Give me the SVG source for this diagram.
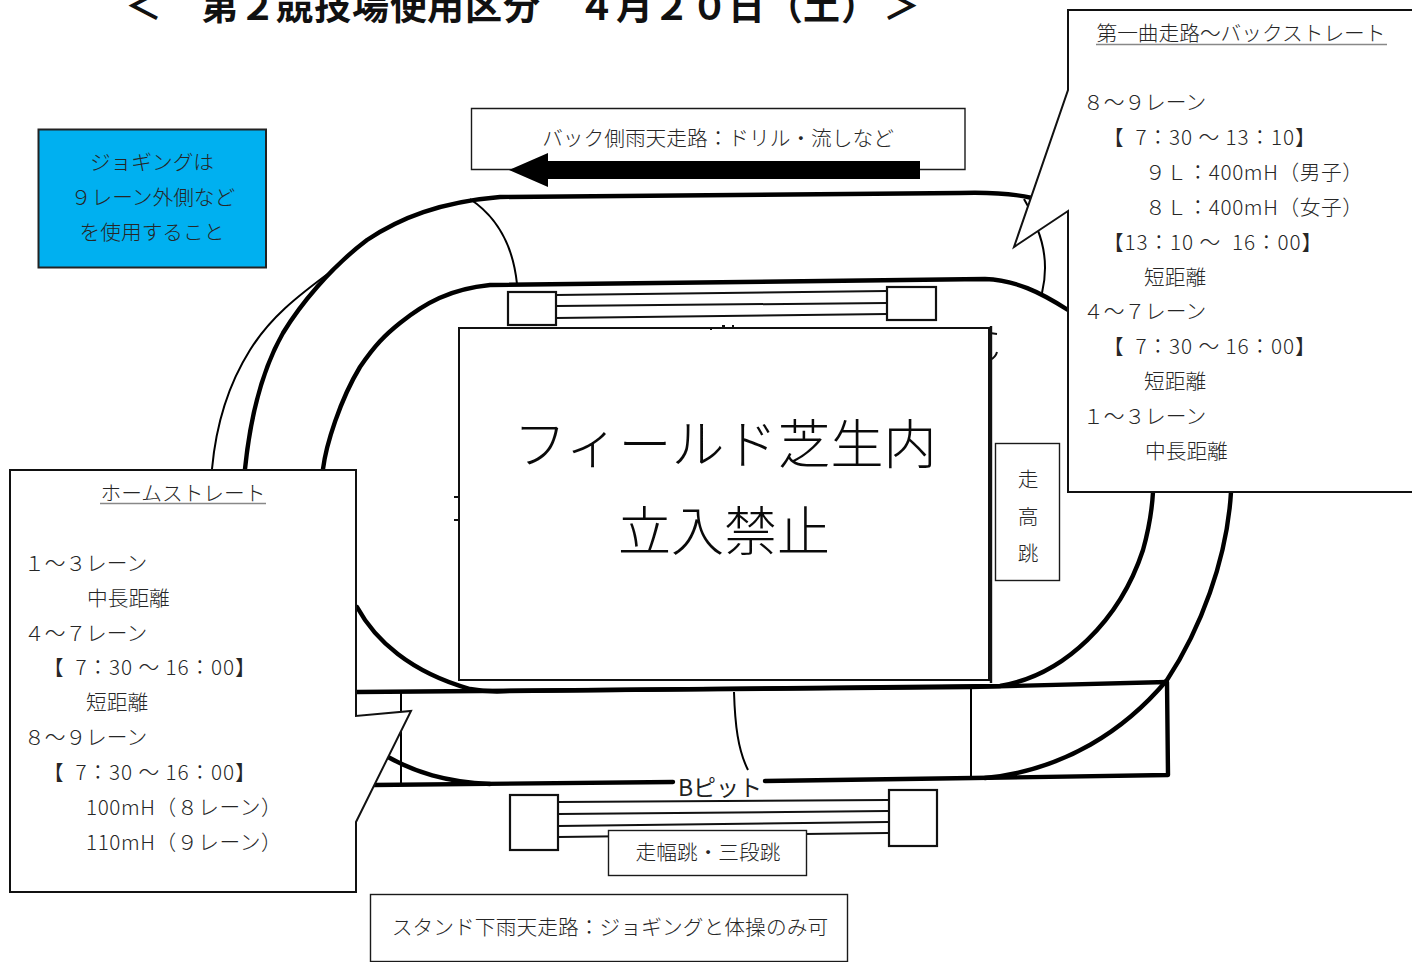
<svg xmlns="http://www.w3.org/2000/svg" width="1412" height="962" viewBox="0 0 1412 962">
<style>
text{font-family:"Noto Sans CJK JP","Noto Sans",sans-serif;font-size:20.7px;font-weight:300;fill:#262626;white-space:pre}
.m{text-anchor:middle}
.t{letter-spacing:.9px}
.h{letter-spacing:.6px}
.title{font-size:37px;font-weight:700;fill:#111}
.big{font-size:53px;fill:#0a0a0a}
.box{fill:#fff;stroke:#1a1a1a;stroke-width:1.4}
.call{fill:#fff;stroke:#111;stroke-width:2}
.trk{fill:none;stroke:#000;stroke-width:4.400;stroke-linecap:round;stroke-linejoin:round}
.thin{fill:none;stroke:#000;stroke-width:2}
.pit{fill:#fff;stroke:#111;stroke-width:2.200}
.pl{fill:none;stroke:#111;stroke-width:2}
.u{fill:none;stroke:#888;stroke-width:1.6}
</style>
<rect width="1412" height="962" fill="#fff"/>
<g id="title"><text class="title" y="20" x="125">＜</text><text class="title" y="20" x="201 239 276 314 352 390 427 465 503">第２競技場使用区分</text><text class="title" y="20" x="578 616 653 691 728 766 803 841 883">４月２０日（土）＞</text></g>
<g id="connectors">
<path class="thin" d="M212 469C216 425 228 385 250 350C270 318 295 298 333 270"/>
<path class="trk" d="M245 469C250 420 262 370 283 333C300 305 330 268 367 240C400 218 440 202 500 197L960 193C995 192 1015 194 1032 198"/>
<path class="trk" d="M323 469C326 445 340 400 360 367C375 345 385 335 400 323C425 303 450 289 490 285L985 279C1015 280 1040 292 1068 310"/>
<path class="thin" d="M470 199C497 217 513 245 517 284"/>
<path class="thin" d="M1037 228C1046 250 1047 272 1042 293"/>
<path class="thin" d="M1024 199L1029 208" stroke-width="3"/>
<path class="trk" d="M357 607C375 640 410 672 470 689C480 691 495 692 510 691L1000 686C1065 675 1120 620 1143 550C1150 525 1152 510 1153 492"/>
<path class="trk" d="M357 692L970 687L1167 682L1168 775L973 778L765 781"/>
<path class="trk" d="M673 782L373 785"/>
<path class="trk" d="M388 757C415 772 445 782 490 784"/>
<path class="trk" d="M1231 492C1227 560 1200 630 1167 680C1125 730 1065 770 985 778"/>
<path class="thin" d="M401 693V784"/>
<path class="thin" d="M971 687V778"/>
<path class="thin" d="M734 692C735 725 738 750 748 770"/>
</g>
<g id="field"><rect x="459" y="328" width="530" height="352" fill="#fff" stroke="#111" stroke-width="2"/><path d="M991 326V683" fill="none" stroke="#111" stroke-width="2.400"/><path d="M990 333L997 334M990 360C994 358 996 356 997 352M454 497L458 497M454 520L458 520" fill="none" stroke="#111" stroke-width="2"/><path d="M711 327V330M722 326H725M733 325V328" stroke="#111" stroke-width="2"/><text class="m big" x="725" y="464">フィールド芝生内</text><text class="m big" x="724" y="551">立入禁止</text></g>
<g id="pit-top"><path class="pl" d="M556 295L887 291M556 306L887 303M556 318L887 314"/><rect class="pit" x="508" y="292" width="48" height="33"/><rect class="pit" x="887" y="287" width="49" height="33"/></g>
<g id="pit-bottom"><path class="pl" d="M558 802L888 800M558 814L888 811M558 826L888 822M558 837L888 833"/><rect class="pit" x="510" y="795" width="48" height="55"/><rect class="pit" x="889" y="790" width="48" height="56"/></g>
<g id="b-pit"><text x="678" y="796" style="font-size:23px;font-weight:400;fill:#222">Bピット</text></g>
<g id="jog-note"><rect x="38.500" y="129.500" width="227.500" height="138" fill="#00b0f0" stroke="#222" stroke-width="2"/><text class="m" x="152" y="170">ジョギングは</text><text class="m" x="153" y="205">９レーン外側など</text><text class="m" x="152" y="240">を使用すること</text></g>
<g id="back-rain"><path class="box" d="M471.500 108.500H965V169.500H471.500Z"/><text class="m" x="718" y="146">バック側雨天走路：ドリル・流しなど</text><path d="M509 170L548 153V161H920V179H548V187Z" fill="#000"/></g>
<g id="high-jump"><rect class="box" x="995.500" y="443.500" width="64" height="137"/><text class="m" x="1028" y="487">走</text><text class="m" x="1028" y="524">高</text><text class="m" x="1028" y="561">跳</text></g>
<g id="long-jump"><rect class="box" x="608.500" y="830.500" width="198" height="45"/><text class="m" x="708" y="860">走幅跳・三段跳</text></g>
<g id="stand-rain"><rect class="box" x="370.500" y="894.500" width="477" height="67"/><text class="m" x="610" y="935" style="letter-spacing:.1px">スタンド下雨天走路：ジョギングと体操のみ可</text></g>
<g id="home-callout"><path class="call" d="M10 470H356V716L411 711L356 822V892H10Z"/>
<text class="m" x="183" y="501">ホームストレート</text><path class="u" d="M100 503.500H266"/>
<text x="24" y="571">１～３レーン</text><text x="87" y="606">中長距離</text><text x="24" y="641">４～７レーン</text><text class="t" x="43" y="675">【  7：30 ～ 16：00】</text><text x="86" y="710">短距離</text><text x="24" y="745">８～９レーン</text><text class="t" x="43" y="780">【  7：30 ～ 16：00】</text><text class="h" x="86" y="815">100mH（８レーン）</text><text class="h" x="86" y="850">110mH（９レーン）</text></g>
<g id="back-callout"><path class="call" d="M1414 10H1068V90L1014 247L1068 211V492H1414Z"/>
<text class="m" x="1241" y="41">第一曲走路～バックストレート</text><path class="u" d="M1096 44.500H1387"/>
<text x="1083" y="110">８～９レーン</text><text class="t" x="1103" y="145">【  7：30 ～ 13：10】</text><text class="h" x="1145" y="180">９Ｌ：400mH（男子）</text><text class="h" x="1145" y="215">８Ｌ：400mH（女子）</text><text class="t" x="1103" y="250">【13：10 ～  16：00】</text><text x="1144" y="285">短距離</text><text x="1083" y="319">４～７レーン</text><text class="t" x="1103" y="354">【  7：30 ～ 16：00】</text><text x="1144" y="389">短距離</text><text x="1083" y="424">１～３レーン</text><text x="1145" y="459">中長距離</text></g>
</svg>
